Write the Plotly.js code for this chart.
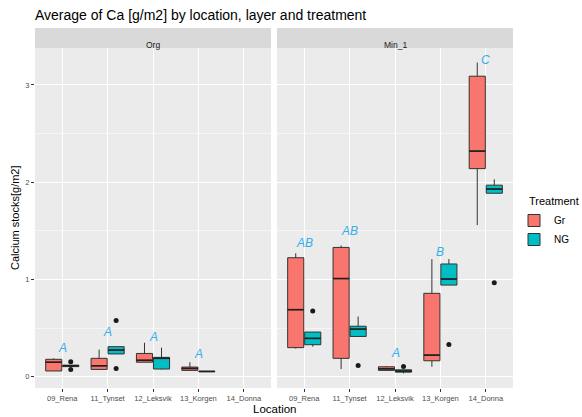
<!DOCTYPE html>
<html><head><meta charset="utf-8">
<script src="https://cdn.plot.ly/plotly-3.0.1.min.js"></script>
<style>html,body{margin:0;padding:0;background:#fff}</style>
</head><body><div id="chart" style="width:582px;height:417px"></div>
<script>
const locations = ['09_Rena','11_Tynset','12_Leksvik','13_Korgen','14_Donna'];
const layers = ['Org','Min_1'];
const treatments = ['Gr','NG'];

// Org layer, Gr
const orgGrQ1  = [0.06, 0.076, 0.15, 0.066, null];
const orgGrMed = [0.15, 0.113, 0.17, 0.086, null];
const orgGrQ3  = [0.18, 0.19, 0.24, 0.10, null];
const orgGrLo  = [0.06, 0.07, 0.15, 0.06, null];
const orgGrHi  = [0.19, 0.28, 0.35, 0.15, null];
// Org layer, NG
const orgNgQ1  = [0.105, 0.235, 0.08, 0.053, null];
const orgNgMed = [0.113, 0.275, 0.19, 0.055, null];
const orgNgQ3  = [0.12, 0.31, 0.20, 0.057, null];
const orgNgLo  = [0.105, 0.235, 0.075, 0.053, null];
const orgNgHi  = [0.12, 0.31, 0.30, 0.057, null];
const orgNgOutLoc = ['09_Rena','09_Rena','11_Tynset','11_Tynset'];
const orgNgOutVal = [0.155, 0.075, 0.58, 0.086];

// Min_1 layer, Gr
const minGrQ1  = [0.30, 0.19, 0.066, 0.165, 2.14];
const minGrMed = [0.69, 1.01, 0.082, 0.223, 2.32];
const minGrQ3  = [1.224, 1.33, 0.103, 0.858, 3.09];
const minGrLo  = [0.29, 0.08, 0.06, 0.103, 1.56];
const minGrHi  = [1.27, 1.35, 0.11, 1.21, 3.23];
// Min_1 layer, NG
const minNgQ1  = [0.33, 0.415, 0.048, 0.943, 1.887];
const minNgMed = [0.395, 0.49, 0.059, 1.005, 1.93];
const minNgQ3  = [0.46, 0.52, 0.072, 1.16, 1.97];
const minNgLo  = [0.31, 0.415, 0.035, 0.943, 1.887];
const minNgHi  = [0.46, 0.62, 0.072, 1.21, 2.03];
const minNgOutLoc = ['09_Rena','11_Tynset','12_Leksvik','13_Korgen','14_Donna'];
const minNgOutVal = [0.676, 0.117, 0.107, 0.333, 0.967];

// Significance letters
const orgLetters = ['A','A','A','A',''];
const orgLetterY = [0.295, 0.46, 0.41, 0.23, null];
const minLetters = ['AB','AB','A','B','C'];
const minLetterY = [1.38, 1.50, 0.24, 1.28, 3.26];

const colors = {Gr:'#F8766D', NG:'#00BFC4'};
const dodge = 0.1875, bw = 0.355;
const font = 'Liberation Sans, Arial, sans-serif';

function boxTrace(tr, q1, med, q3, lo, hi, xa, showleg){
  const off = tr === 'Gr' ? -dodge : dodge;
  const idx = [];
  locations.forEach((l,i)=>{ if(med[i]!==null) idx.push(i); });
  return {
    type:'box', name:tr, legendgroup:tr, showlegend:showleg,
    x: idx.map(i=>i+off),
    q1: idx.map(i=>q1[i]), median: idx.map(i=>med[i]), q3: idx.map(i=>q3[i]),
    lowerfence: idx.map(i=>lo[i]), upperfence: idx.map(i=>hi[i]),
    width: bw, whiskerwidth: 0, boxpoints:false,
    fillcolor: colors[tr], line:{color:'#333333', width:1},
    xaxis: xa, yaxis:'y', hoverinfo:'skip'
  };
}
// thicker median bars, as in ggplot
function medTrace(tr, med, xa){
  const off = tr === 'Gr' ? -dodge : dodge;
  const xs = [], ys = [];
  med.forEach((m,i)=>{ if(m!==null){ xs.push(i+off-bw/2, i+off+bw/2, null); ys.push(m, m, null); } });
  return {type:'scatter', mode:'lines', showlegend:false, x:xs, y:ys,
    line:{color:'#1F1F1F', width:1.6}, xaxis:xa, yaxis:'y', hoverinfo:'skip'};
}
function outTrace(tr, locs, vals, xa){
  const off = tr === 'Gr' ? -dodge : dodge;
  return {type:'scatter', mode:'markers', showlegend:false,
    x: locs.map(l=>locations.indexOf(l)+off), y: vals,
    marker:{color:'#1a1a1a', size:5}, xaxis:xa, yaxis:'y', hoverinfo:'skip'};
}

const data = [
  boxTrace('Gr', orgGrQ1, orgGrMed, orgGrQ3, orgGrLo, orgGrHi, 'x', true),
  boxTrace('NG', orgNgQ1, orgNgMed, orgNgQ3, orgNgLo, orgNgHi, 'x', true),
  boxTrace('Gr', minGrQ1, minGrMed, minGrQ3, minGrLo, minGrHi, 'x2', false),
  boxTrace('NG', minNgQ1, minNgMed, minNgQ3, minNgLo, minNgHi, 'x2', false),
  medTrace('Gr', orgGrMed, 'x'), medTrace('NG', orgNgMed, 'x'),
  medTrace('Gr', minGrMed, 'x2'), medTrace('NG', minNgMed, 'x2'),
  outTrace('NG', orgNgOutLoc, orgNgOutVal, 'x'),
  outTrace('NG', minNgOutLoc, minNgOutVal, 'x2')
];

const annotations = [];
function addLetters(letters, ys, xref){
  letters.forEach((t,i)=>{ if(t && ys[i]!==null) annotations.push({
    text:t, x:i, y:ys[i], xref:xref, yref:'y', showarrow:false,
    font:{family:font, size:12, color:'#35AEEA', style:'italic'}
  });});
}
addLetters(orgLetters, orgLetterY, 'x');
addLetters(minLetters, minLetterY, 'x2');

const stripH = 20/340;
const shapes = [];
['x','x2'].forEach((xa,k)=>{
  shapes.push({type:'rect', xref:xa+' domain', yref:'paper', x0:0, x1:1, y0:1, y1:1+stripH,
    fillcolor:'#D9D9D9', line:{width:0}, layer:'below'});
  annotations.push({text:layers[k], xref:xa+' domain', yref:'paper', x:0.5, y:1+stripH/2,
    showarrow:false, font:{family:font, size:8.5, color:'#1A1A1A'}});
});
annotations.push({text:'Location', xref:'paper', yref:'paper', x:0.5, y:-21/340, yanchor:'middle',
  showarrow:false, font:{family:font, size:11.5, color:'#000'}});
annotations.push({text:'Calcium stocks[g/m2]', xref:'paper', yref:'paper', x:-20/478, y:0.5,
  xanchor:'center', textangle:-90, showarrow:false, font:{family:font, size:11, color:'#000'}});
annotations.push({text:'Treatment', xref:'paper', yref:'paper', x:(527-35)/478, y:(388-201)/340,
  xanchor:'left', yanchor:'middle', showarrow:false, font:{family:font, size:11, color:'#000'}});

const xCommon = {
  range:[-0.6, 4.6], tickmode:'array', tickvals:locations.map((l,i)=>i), ticktext:locations,
  showgrid:true, gridcolor:'#FFFFFF', gridwidth:1, zeroline:false,
  ticks:'outside', ticklen:3, tickcolor:'#333333', tickwidth:1,
  tickfont:{family:font, size:7.5, color:'#4D4D4D'}, showline:false, fixedrange:true
};
const layout = {
  width:582, height:417,
  margin:{l:35, r:69, t:48, b:29, autoexpand:false},
  paper_bgcolor:'#FFFFFF', plot_bgcolor:'#EBEBEB',
  title:{text:'Average of Ca [g/m2] by location, layer and treatment', x:35/582, xanchor:'left',
    y:1-15/417, yanchor:'middle', font:{family:font, size:14, color:'#000'}},
  xaxis: Object.assign({}, xCommon, {domain:[0, 236/478], anchor:'y'}),
  xaxis2: Object.assign({}, xCommon, {domain:[242/478, 1], anchor:'y'}),
  yaxis: {range:[-0.115, 3.38], tickvals:[0,1,2,3], showgrid:true, gridcolor:'#FFFFFF', gridwidth:1,
    minor:{tickvals:[0.5,1.5,2.5], showgrid:true, gridcolor:'#FFFFFF', gridwidth:0.5, ticks:''},
    zeroline:false, ticks:'outside', ticklen:3, tickcolor:'#333333', tickwidth:1,
    tickfont:{family:font, size:7.5, color:'#4D4D4D'}, anchor:'x'},
  showlegend:true,
  legend:{x:(514-35)/478, xanchor:'left', y:(388-206)/340, yanchor:'top', bgcolor:'rgba(0,0,0,0)',
    font:{family:font, size:10, color:'#000'}, itemwidth:30, tracegroupgap:0},
  shapes: shapes, annotations: annotations
};
Plotly.newPlot('chart', data, layout, {displayModeBar:false, staticPlot:true});
</script></body></html>
